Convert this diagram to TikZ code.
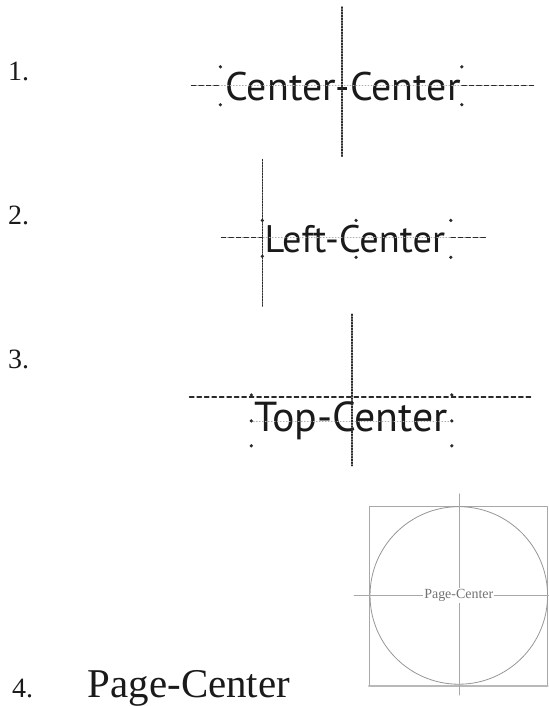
\documentclass[tikz,border=0pt]{standalone}
\usepackage{fontspec}
\setmainfont{Liberation Serif}
\newfontfamily\guidefont{PT Sans}
\usetikzlibrary{calc,positioning}
\definecolor{alignInk}{HTML}{1A1A1A}
\definecolor{alignGuide}{HTML}{2A2A2A}
\definecolor{alignFaint}{HTML}{B0B0B0}
\definecolor{alignFrame}{HTML}{A8A8A8}

\begin{document}
\begin{tikzpicture}[x=1pt,y=-1pt,line cap=round,line join=round]
\path[fill=white] (0,0) rectangle (550,706);
\tikzset{num/.style={anchor=base west,text=alignInk,font=\fontsize{28}{28}\selectfont,inner sep=0pt},
  sample/.style={anchor=base,text=alignInk,inner sep=0pt},
  hguide/.style={draw=alignGuide,line width=1.1pt,dash pattern=on 4.5pt off 3pt},
  vguide/.style={draw=alignGuide,line width=1.4pt,dash pattern=on 1.3pt off 1.5pt},
  faintguide/.style={draw=alignFaint,line width=0.7pt,dash pattern=on 1pt off 2pt},
  handle/.style={circle,fill=alignGuide,inner sep=0pt,minimum size=3.6pt},
  frameline/.style={draw=alignFrame,line width=0.8pt}}
% 1. Center-Center
\node[num] (n1) at (8,81) {1.};
\node[sample,font=\guidefont\fontsize{40}{40}\selectfont] (cc) at (344,101) {Center-Center};
\node[handle] (cc1) at (221,67) {}; \node[handle] (cc2) at (221,105) {};
\node[handle] (cc3) at (463,67) {}; \node[handle] (cc4) at (463,105) {};
\coordinate (cc-l) at (192,86); \coordinate (cc-r) at (535,86);
\coordinate (cc-t) at (343,7); \coordinate (cc-b) at (343,158);
\draw[faintguide] (cc-l) -- (cc-r);
\draw[hguide] (cc-l) -- (cc1 |- cc-l); \draw[hguide] (cc3 |- cc-r) -- (cc-r);
\draw[vguide] (cc-t) -- (cc-b);
% 2. Left-Center
\node[num] (n2) at (8,225) {2.};
\node[sample,anchor=base west,font=\guidefont\fontsize{38.5}{38.5}\selectfont] (lc) at (265,253) {Left-Center};
\node[handle] (lc1) at (263,221) {}; \node[handle] (lc2) at (263,257) {};
\node[handle] (lc3) at (357,221) {}; \node[handle] (lc4) at (357,258) {};
\node[handle] (lc5) at (452,221) {}; \node[handle] (lc6) at (452,258) {};
\coordinate (lc-l) at (222,238); \coordinate (lc-r) at (488,238);
\coordinate (lc-t) at (263,160); \coordinate (lc-b) at (263,307);
\draw[faintguide] (lc-l) -- (lc-r);
\draw[hguide] (lc-l) -- (lc1 |- lc-l); \draw[hguide] (lc5 |- lc-r) -- (lc-r);
\draw[vguide] (lc-t) -- (lc-b);
% 3. Top-Center
\node[num] (n3) at (8,369) {3.};
\node[sample,font=\guidefont\fontsize{42}{42}\selectfont] (tc) at (352,433) {Top-Center};
\node[handle] (tc0) at (252,396) {}; \node[handle] (tc5) at (453,396) {};
\node[handle] (tc1) at (252,422) {}; \node[handle] (tc2) at (252,447) {};
\node[handle] (tc3) at (453,422) {}; \node[handle] (tc4) at (453,447) {};
\coordinate (tc-l) at (190,398); \coordinate (tc-r) at (532,398);
\coordinate (tc-t) at (353,315); \coordinate (tc-b) at (353,467);
\draw[hguide] (tc-l) -- (tc-r);
\draw[faintguide] (tc1) -- (tc3);
\draw[vguide] (tc-t) -- (tc-b);
% 4. Page-Center
\node[num] (n4) at (12,699) {4.};
\node[anchor=base west,text=alignInk,font=\fontsize{41}{41}\selectfont,inner sep=0pt] (pc) at (88,699) {Page-Center};
\draw[frameline] (370,508) rectangle (549,687);
\draw[draw=alignFrame!80,line width=2.4pt] (370,688) -- (549,688);
\node[circle,draw=alignFrame!120,line width=0.8pt,minimum size=178pt,inner sep=0pt] (page) at (460,597) {};
\coordinate (pg-t) at (460,495); \coordinate (pg-b) at (460,697);
\coordinate (pg-l) at (355,597); \coordinate (pg-r) at (550,597);
\draw[draw=alignFrame,line width=0.6pt] (pg-t) -- (pg-b);
\draw[draw=alignFrame,line width=0.6pt] (pg-l) -- (pg-r);
\node[fill=white,text=black!55,font=\fontsize{14}{14}\selectfont,inner sep=1pt] (pglabel) at (page.center) {Page-Center};
\end{tikzpicture}
\end{document}
